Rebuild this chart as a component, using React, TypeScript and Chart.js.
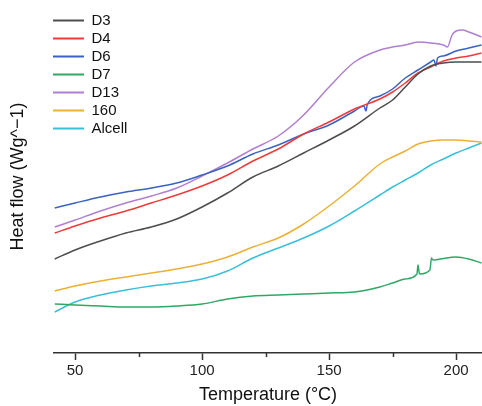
import React, { useEffect, useRef } from "react";
import { Chart, registerables } from "chart.js";

Chart.register(...registerables);

// Temperatures (°C) shared by the smooth series
const temps = [42, 50, 60, 70, 80, 90, 100, 110, 120, 130, 140, 150, 160, 170, 175, 180, 185, 190, 195, 200, 205, 210];

const d3Values = [9.4, 10.3, 11.2, 12.0, 12.6, 13.4, 14.6, 16.0, 17.6, 18.7, 20.0, 21.3, 22.7, 24.5, 25.3, 26.6, 27.9, 28.7, 29.0, 29.1, 29.1, 29.1];
const d4Values = [12.0, 12.7, 13.5, 14.2, 15.0, 15.8, 16.7, 17.8, 19.2, 20.4, 21.9, 23.1, 24.4, 25.4, 26.1, 27.0, 28.0, 28.6, 29.2, 29.5, 29.7, 30.0];

const d6Temps = [42, 50, 60, 70, 80, 90, 100, 110, 120, 130, 140, 150, 160, 163.7, 164.5, 165.1, 170, 175, 180, 185, 190, 191.3, 192.1, 192.7, 195, 200, 205, 210];
const d6Values = [14.5, 15.0, 15.6, 16.1, 16.5, 17.0, 17.8, 18.7, 19.9, 20.8, 21.9, 22.8, 24.2, 24.7, 24.2, 24.9, 25.7, 26.4, 27.5, 28.3, 29.1, 29.3, 28.7, 29.5, 29.7, 30.2, 30.5, 30.8];

const d7Temps = [42, 50, 60, 70, 80, 90, 100, 110, 120, 130, 140, 150, 160, 170, 175, 180, 184.6, 185.0, 185.6, 189.7, 190.3, 190.9, 193.7, 200, 205, 210];
const d7Values = [4.9, 4.8, 4.7, 4.6, 4.6, 4.7, 4.9, 5.4, 5.7, 5.8, 5.9, 6.0, 6.1, 6.6, 7.0, 7.4, 7.9, 8.8, 7.9, 8.3, 9.5, 9.3, 9.4, 9.6, 9.4, 9.0];

const d13Temps = [42, 50, 60, 70, 80, 90, 100, 110, 120, 130, 140, 150, 160, 170, 175, 180, 185, 190, 195, 196.6, 198.4, 200, 202.5, 205, 210];
const d13Values = [12.6, 13.3, 14.2, 15.0, 15.7, 16.5, 17.7, 19.0, 20.4, 21.7, 23.8, 26.6, 29.1, 30.3, 30.6, 30.8, 31.1, 31.0, 30.8, 30.6, 31.8, 32.2, 32.3, 32.1, 31.6];

const s160Values = [6.2, 6.7, 7.2, 7.6, 8.0, 8.4, 8.9, 9.6, 10.6, 11.5, 12.9, 14.7, 16.7, 18.9, 19.6, 20.2, 20.9, 21.2, 21.3, 21.3, 21.2, 21.1];
const alcellValues = [4.1, 5.1, 5.8, 6.3, 6.7, 7.0, 7.4, 8.2, 9.5, 10.5, 11.5, 12.7, 14.2, 15.8, 16.6, 17.3, 18.0, 18.8, 19.4, 20.0, 20.5, 21.0];

const xTickValues = [50, 100, 150, 200];
const xMinorTickValues = [75, 125, 175];

const FONT = "'Liberation Sans', Arial, sans-serif";

function pts(xs: number[], ys: number[]) {
  return xs.map((x, i) => ({ x, y: ys[i] }));
}

const minorTicksPlugin = {
  id: "minorTicks",
  afterLayout(chart: any) {
    // nudge the in-plot legend to sit like the reference
    if (chart.legend) {
      chart.legend.left = chart.chartArea.left - 4;
      chart.legend.top = chart.chartArea.top + 10;
    }
  },
  afterDraw(chart: any) {
    const xs = chart.scales.x;
    const ctx = chart.ctx;
    ctx.save();
    ctx.strokeStyle = "#333";
    ctx.lineWidth = 1.5;
    for (const v of xMinorTickValues) {
      const px = Math.round(xs.getPixelForValue(v)) + 0.5;
      ctx.beginPath();
      ctx.moveTo(px, xs.top);
      ctx.lineTo(px, xs.top + 4);
      ctx.stroke();
    }
    ctx.restore();
  },
};

export default function App() {
  const ref = useRef<HTMLCanvasElement | null>(null);

  useEffect(() => {
    if (!ref.current) return;
    const mk = (label: string, data: any[], color: string) => ({
      label,
      data,
      borderColor: color,
      backgroundColor: color,
      borderWidth: 1.5,
      pointRadius: 0,
      cubicInterpolationMode: "monotone" as const,
    });
    const chart = new Chart(ref.current, {
      type: "line",
      data: {
        datasets: [
          mk("D3", pts(temps, d3Values), "#4d4d4d"),
          mk("D4", pts(temps, d4Values), "#f03a3a"),
          mk("D6", pts(d6Temps, d6Values), "#3a63c1"),
          mk("D7", pts(d7Temps, d7Values), "#2fa865"),
          mk("D13", pts(d13Temps, d13Values), "#b07fd0"),
          mk("160", pts(temps, s160Values), "#ebb035"),
          mk("Alcell", pts(temps, alcellValues), "#38c0d9"),
        ],
      },
      options: {
        animation: false,
        responsive: false,
        layout: { padding: 0 },
        plugins: {
          tooltip: { enabled: false },
          legend: {
            position: "chartArea",
            align: "start",
            labels: {
              boxWidth: 31,
              boxHeight: 2,
              padding: 3,
              color: "#111",
              font: { family: FONT, size: 15 },
              generateLabels: (c: any) =>
                Chart.defaults.plugins.legend.labels.generateLabels(c).map((l: any) => ({
                  ...l,
                  fillStyle: l.strokeStyle,
                  lineWidth: 0,
                })),
            },
          },
        },
        scales: {
          x: {
            type: "linear",
            min: 41.7,
            max: 210.2,
            afterBuildTicks: (s: any) => {
              s.ticks = xTickValues.map((v) => ({ value: v }));
            },
            afterFit: (s: any) => {
              s.height = 53;
            },
            grid: {
              display: true,
              drawOnChartArea: false,
              drawTicks: true,
              tickLength: 7,
              tickWidth: 1.5,
              tickColor: "#333",
            },
            border: { display: true, color: "#333", width: 1.5 },
            ticks: {
              color: "#222",
              padding: 2,
              maxRotation: 0,
              font: { family: FONT, size: 15 },
            },
            title: {
              display: true,
              text: "Temperature (°C)",
              color: "#111",
              font: { family: FONT, size: 18 },
              padding: { top: 0, bottom: 0 },
            },
          },
          y: {
            type: "linear",
            min: 0,
            max: 35.3,
            afterFit: (s: any) => {
              s.width = 54;
            },
            grid: { display: false },
            border: { display: false },
            ticks: { display: false },
            title: {
              display: true,
              text: "Heat flow (Wg^−1)",
              color: "#111",
              font: { family: FONT, size: 18 },
              padding: { top: 7, bottom: 4 },
            },
          },
        },
      },
      plugins: [minorTicksPlugin],
    });
    return () => chart.destroy();
  }, []);

  return (
    <div style={{ position: "fixed", left: 0, top: 0, width: 482, height: 406, background: "#fff" }}>
      <canvas ref={ref} width={482} height={406} style={{ display: "block" }} />
    </div>
  );
}
